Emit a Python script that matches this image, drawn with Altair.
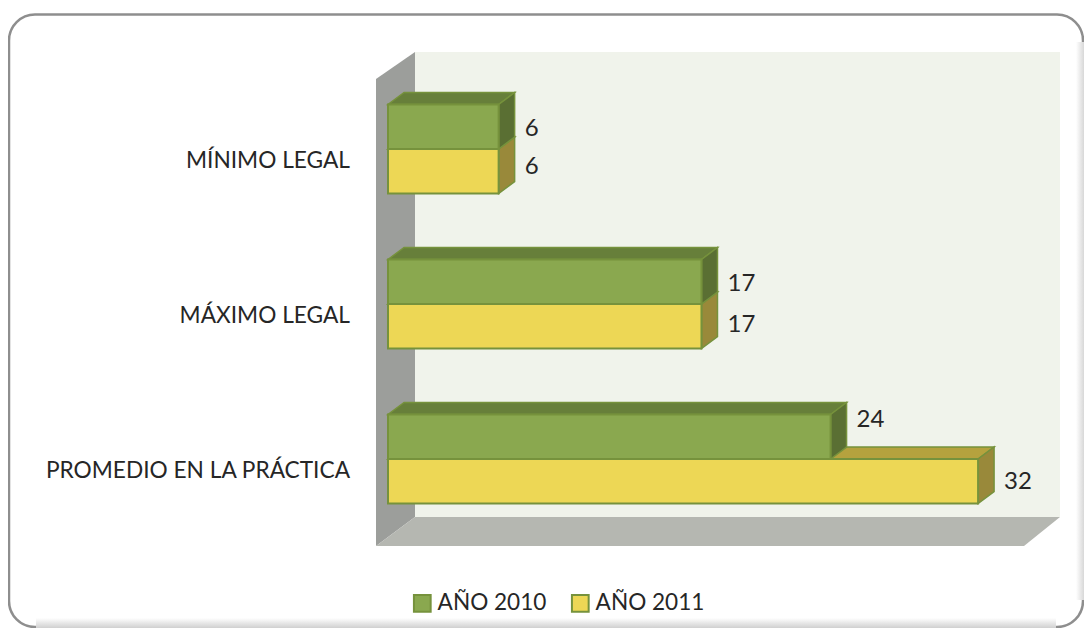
import altair as alt
import pandas as pd

# ---- data ----
categories = ["MÍNIMO LEGAL", "MÁXIMO LEGAL", "PROMEDIO EN LA PRÁCTICA"]
series = ["AÑO 2010", "AÑO 2011"]
values_2010 = [6, 17, 24]
values_2011 = [6, 17, 32]

# ---- layout ----
PAGE_RIGHT, PAGE_BOTTOM = 1084, 628
W, H = PAGE_RIGHT - 8, PAGE_BOTTOM - 8
ORIGIN_X, UNIT = 388.0, 18.44        # page px of value 0, px per value unit
def xv(px):
    return (px - ORIGIN_X) / UNIT
CENTER0, STEP, BAR_H = 149.0, 155.0, 44.5
DX, DY = 16.0, 12.0
FONT = "Lato"
TXT = "#262626"
EDGE = "#76923C"
GREEN, GREEN_TOP, GREEN_SIDE = "#8AA84F", "#677F3A", "#5A6F33"
YELLOW, YELLOW_TOP, YELLOW_SIDE = "#EDD755", "#B5A23E", "#99893A"
LABEL_GAP = 10
label_nudge_2010 = [-20, -20, -39]
label_nudge_2011 = [18, 21, 23]

xs = alt.Scale(domain=[xv(8), xv(PAGE_RIGHT)], range=[0, W], nice=False, zero=False)
ys = alt.Scale(domain=[8, PAGE_BOTTOM], range=[0, H], nice=False, zero=False)
X = lambda f="x": alt.X(f"{f}:Q", scale=xs, axis=None)
Y = lambda f="y": alt.Y(f"{f}:Q", scale=ys, axis=None)

# ---- derived tables ----
bars, tops_g, tops_y, sides_g, sides_y, labels, cats = [], [], [], [], [], [], []
d = DX / UNIT
for i, cat in enumerate(categories):
    c = CENTER0 + STEP * i
    cats.append({"cat": cat, "x": xv(350), "y": c + 12})
    for s, vals, nudges in ((0, values_2010, label_nudge_2010), (1, values_2011, label_nudge_2011)):
        v = vals[i]
        top = c - BAR_H if s == 0 else c
        bot = c if s == 0 else c + BAR_H
        face = f"{i}-{s}"
        bars.append({"series": series[s], "x": 0, "x2": v, "y": top, "y2": bot})
        (tops_g if s == 0 else tops_y).extend([
            {"face": face, "x": 0, "x2": v, "y": top},
            {"face": face, "x": d, "x2": v + d, "y": top - DY},
        ])
        (sides_g if s == 0 else sides_y).extend([
            {"face": face, "x": v, "y": top, "y2": bot},
            {"face": face, "x": v + d, "y": top - DY, "y2": bot - DY},
        ])
        labels.append({"v": str(v), "x": v + d + LABEL_GAP / UNIT, "y": c + nudges[i]})

def harea(rows, fill, **kw):
    return alt.Chart(pd.DataFrame(rows)).mark_area(orient="horizontal", fill=fill, **kw).encode(
        x=X(), x2="x2:Q", y=Y(), detail="face:N")

def varea(rows, fill, **kw):
    return alt.Chart(pd.DataFrame(rows)).mark_area(orient="vertical", fill=fill, **kw).encode(
        x=X(), y=Y(), y2="y2:Q", detail="face:N")

def rect(x0, x1, y0, y1, **kw):
    df = pd.DataFrame([{"x": xv(x0), "x2": xv(x1), "y": y0, "y2": y1}])
    return alt.Chart(df).mark_rect(**kw).encode(x=X(), x2="x2:Q", y=Y(), y2="y2:Q")

frame = rect(9, PAGE_RIGHT - 1, 14.5, PAGE_BOTTOM - 1, fill="white", stroke="#8E8E8E", strokeWidth=2.5, cornerRadius=26)
fade_r = rect(PAGE_RIGHT - 8, PAGE_RIGHT, 42, PAGE_BOTTOM - 28, color=alt.Gradient(
    gradient="linear", x1=0, x2=1, y1=0, y2=0,
    stops=[alt.GradientStop(offset=0, color="#FFFFFF"), alt.GradientStop(offset=1, color="#D8D8D8")]))
fade_b = rect(36, PAGE_RIGHT - 28, PAGE_BOTTOM - 10, PAGE_BOTTOM, color=alt.Gradient(
    gradient="linear", x1=0, x2=0, y1=0, y2=1,
    stops=[alt.GradientStop(offset=0, color="#FFFFFF"), alt.GradientStop(offset=1, color="#D0D0D0")]))

back = rect(415, 1060, 52, 517, fill="#F0F3EB")
wall = varea([
    {"face": "w", "x": xv(376), "y": 79, "y2": 546},
    {"face": "w", "x": xv(415), "y": 52, "y2": 517},
], "#9C9E9B")
floor = harea([
    {"face": "f", "x": xv(415), "x2": xv(1060), "y": 517},
    {"face": "f", "x": xv(376), "x2": xv(1024), "y": 546},
], "#B5B7B1")

edge = dict(stroke=EDGE, strokeWidth=1.5)
front = alt.Chart(pd.DataFrame(bars)).mark_rect(stroke=EDGE, strokeWidth=2).encode(
    x=X(), x2="x2:Q", y=Y(), y2="y2:Q",
    color=alt.Color("series:N",
                    scale=alt.Scale(domain=series, range=[GREEN, YELLOW]),
                    legend=alt.Legend(
                        title=None, orient="none", legendX=403, legendY=584,
                        direction="horizontal", columns=2, columnPadding=20,
                        symbolType="square", symbolSize=280, symbolStrokeColor=EDGE,
                        symbolStrokeWidth=2, symbolOpacity=1, labelFont=FONT,
                        labelFontSize=22.6, labelColor=TXT, labelLimit=200, labelOffset=4)),
)

value_text = alt.Chart(pd.DataFrame(labels)).mark_text(
    align="left", baseline="middle", font=FONT, fontSize=24, color=TXT).encode(
    x=X(), y=Y(), text="v:N")
cat_text = alt.Chart(pd.DataFrame(cats)).mark_text(
    align="right", baseline="middle", font=FONT, fontSize=22.7, color=TXT).encode(
    x=X(), y=Y(), text="cat:N")

chart = alt.layer(
    frame, fade_r, fade_b, back, wall, floor,
    harea(tops_y, YELLOW_TOP, **edge), varea(sides_y, YELLOW_SIDE, **edge),
    harea(tops_g, GREEN_TOP, **edge), varea(sides_g, GREEN_SIDE, **edge),
    front, value_text, cat_text,
).properties(width=W, height=H, padding=0, autosize=alt.AutoSizeParams(type="none")
).configure_view(stroke=None)

chart.save("out.html", embed_options={"renderer": "svg", "actions": False})
